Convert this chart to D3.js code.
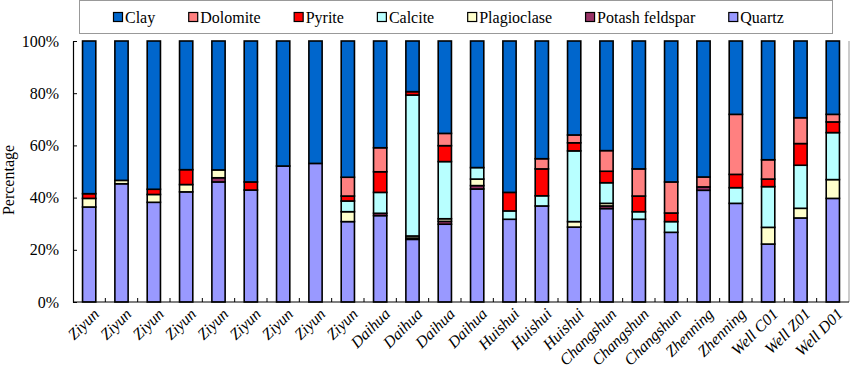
<!DOCTYPE html>
<html>
<head>
<meta charset="utf-8">
<script src="https://cdn.jsdelivr.net/npm/d3@7"></script>
<style>
  body { margin: 0; background: #fff; }
</style>
</head>
<body>
<div id="chart"></div>
<script>
// sample locations, left to right
const labels = ["Ziyun", "Ziyun", "Ziyun", "Ziyun", "Ziyun", "Ziyun", "Ziyun", "Ziyun", "Ziyun",
    "Daihua", "Daihua", "Daihua", "Daihua", "Huishui", "Huishui", "Huishui",
    "Changshun", "Changshun", "Changshun", "Zhenning", "Zhenning", "Well C01", "Well Z01", "Well D01"];

// mineral contents (%)
const quartz = [36.4, 45.3, 38.2, 42.2, 46.0, 42.9, 52.1, 53.1, 30.8, 33.1, 24.0, 29.8, 43.3, 31.7, 36.8, 28.7, 35.8, 31.7, 26.7, 42.8, 37.8, 22.2, 32.2, 39.7];
const potash = [0, 0, 0, 0, 1.6, 0, 0, 0, 0, 0.9, 0.5, 1.1, 1.3, 0, 0, 0, 1.0, 0, 0, 1.3, 0, 0, 0, 0];
const plagioclase = [3.3, 1.3, 3.0, 2.8, 3.0, 0, 0, 0, 3.8, 0, 0.8, 1.0, 2.5, 0, 0, 2.1, 1.0, 0, 0, 0, 0, 6.4, 3.7, 7.2];
const calcite = [0, 0, 0, 0, 0, 0, 0, 0, 4.1, 8.0, 54.0, 21.9, 4.4, 3.2, 3.9, 27.1, 7.9, 2.9, 4.1, 0, 6.0, 15.6, 16.5, 18.0];
const pyrite = [1.8, 0, 2.0, 5.7, 0, 3.1, 0, 0, 1.9, 7.9, 1.3, 6.1, 0, 7.1, 10.3, 3.1, 4.4, 6.0, 3.3, 0, 5.1, 2.9, 8.3, 4.1];
const dolomite = [0, 0, 0, 0, 0, 0, 0, 0, 7.2, 9.2, 0, 4.7, 0, 0, 3.9, 3.0, 7.9, 10.4, 11.9, 3.8, 23.0, 7.4, 9.9, 2.9];
const clay = [58.5, 53.4, 56.8, 49.3, 49.4, 54.0, 47.9, 46.9, 52.2, 40.9, 19.4, 35.4, 48.5, 58.0, 45.1, 36.0, 42.0, 49.0, 54.0, 52.1, 28.1, 45.5, 29.4, 28.1];

// stack order bottom -> top
const keys = ["Quartz", "Potash feldspar", "Plagioclase", "Calcite", "Pyrite", "Dolomite", "Clay"];
const legendOrder = ["Clay", "Dolomite", "Pyrite", "Calcite", "Plagioclase", "Potash feldspar", "Quartz"];
const colors = ["#9999FF", "#993366", "#FFFFCC", "#B8FFFF", "#FF0000", "#FF8080", "#0066CC"];

const params = { width: 851, height: 375, left: 73, right: 849, top: 41, bottom: 302 };
const FONT = "Liberation Serif, Times New Roman, DejaVu Serif, serif";

const buildRows = () => labels.map((name, i) => ({
    idx: i,
    name: name,
    "Quartz": quartz[i],
    "Potash feldspar": potash[i],
    "Plagioclase": plagioclase[i],
    "Calcite": calcite[i],
    "Pyrite": pyrite[i],
    "Dolomite": dolomite[i],
    "Clay": clay[i]
}));

const main = () => {
    const rows = buildRows();
    const svg = d3.select("#chart").append("svg")
        .attr("width", params.width)
        .attr("height", params.height)
        .attr("font-family", FONT)
        .style("background", "#fff");

    const color = d3.scaleOrdinal().domain(keys).range(colors);

    const x = d3.scaleBand()
        .domain(rows.map(d => d.idx))
        .range([params.left, params.right])
        .paddingInner(0.59)
        .paddingOuter(0.295);

    const y = d3.scaleLinear().domain([0, 1]).range([params.bottom, params.top]);

    const series = d3.stack().keys(keys).offset(d3.stackOffsetExpand)(rows);

    // bars
    svg.append("g")
        .selectAll("g")
        .data(series)
        .join("g")
        .attr("fill", d => color(d.key))
        .selectAll("rect")
        .data(d => d.filter(s => s[1] - s[0] > 0))
        .join("rect")
        .attr("x", d => x(d.data.idx))
        .attr("y", d => y(d[1]))
        .attr("width", x.bandwidth())
        .attr("height", d => y(d[0]) - y(d[1]))
        .attr("stroke", "#000")
        .attr("stroke-width", 1.6);

    // y axis, ticks pointing inward
    const yAxis = svg.append("g")
        .attr("transform", `translate(${params.left},0)`)
        .call(d3.axisLeft(y).tickValues([0, 0.2, 0.4, 0.6, 0.8, 1]).tickFormat(d3.format(".0%"))
            .tickSizeInner(-4).tickSizeOuter(0).tickPadding(14));
    yAxis.attr("font-family", FONT).attr("font-size", 16);
    yAxis.select(".domain").attr("stroke", "#000").attr("stroke-width", 1.2);
    yAxis.selectAll("text").attr("fill", "#000");

    // right border of plot area
    svg.append("line")
        .attr("x1", params.right).attr("x2", params.right)
        .attr("y1", params.top).attr("y2", params.bottom)
        .attr("stroke", "#999").attr("stroke-width", 1);

    // x axis line and small ticks between bars
    const gap = (x.step() - x.bandwidth()) / 2;
    const xg = svg.append("g");
    xg.append("line")
        .attr("x1", params.left).attr("x2", params.right)
        .attr("y1", params.bottom).attr("y2", params.bottom)
        .attr("stroke", "#000").attr("stroke-width", 1.2);
    xg.selectAll("line.tick")
        .data(rows.slice(1))
        .join("line")
        .attr("class", "tick")
        .attr("x1", d => x(d.idx) - gap).attr("x2", d => x(d.idx) - gap)
        .attr("y1", params.bottom).attr("y2", params.bottom - 4)
        .attr("stroke", "#000");

    // rotated category labels
    xg.selectAll("text")
        .data(rows)
        .join("text")
        .attr("transform", d => `translate(${x(d.idx) + x.bandwidth() / 2 + 7},${params.bottom + 9}) rotate(-45)`)
        .attr("text-anchor", "end")
        .attr("dy", "0.35em")
        .attr("font-size", 16)
        .attr("font-style", "italic")
        .text(d => d.name);

    // y title
    svg.append("text")
        .attr("transform", "translate(14,180) rotate(-90)")
        .attr("text-anchor", "middle")
        .attr("font-size", 16)
        .text("Percentage");

    // legend
    const lg = svg.append("g");
    lg.append("rect")
        .attr("x", 79.5).attr("y", 0.5)
        .attr("width", 753).attr("height", 33)
        .attr("fill", "#fff").attr("stroke", "#999");
    let lx = 113;
    legendOrder.forEach(k => {
        const item = lg.append("g").attr("transform", `translate(${lx},0)`);
        item.append("rect")
            .attr("x", 0.5).attr("y", 12.5)
            .attr("width", 9).attr("height", 9)
            .attr("fill", color(k)).attr("stroke", "#000").attr("stroke-width", 1.2);
        const t = item.append("text")
            .attr("x", 12).attr("y", 23)
            .attr("font-size", 16)
            .text(k);
        lx += 12 + t.node().getComputedTextLength() + 33;
    });
};

main();
</script>
</body>
</html>
